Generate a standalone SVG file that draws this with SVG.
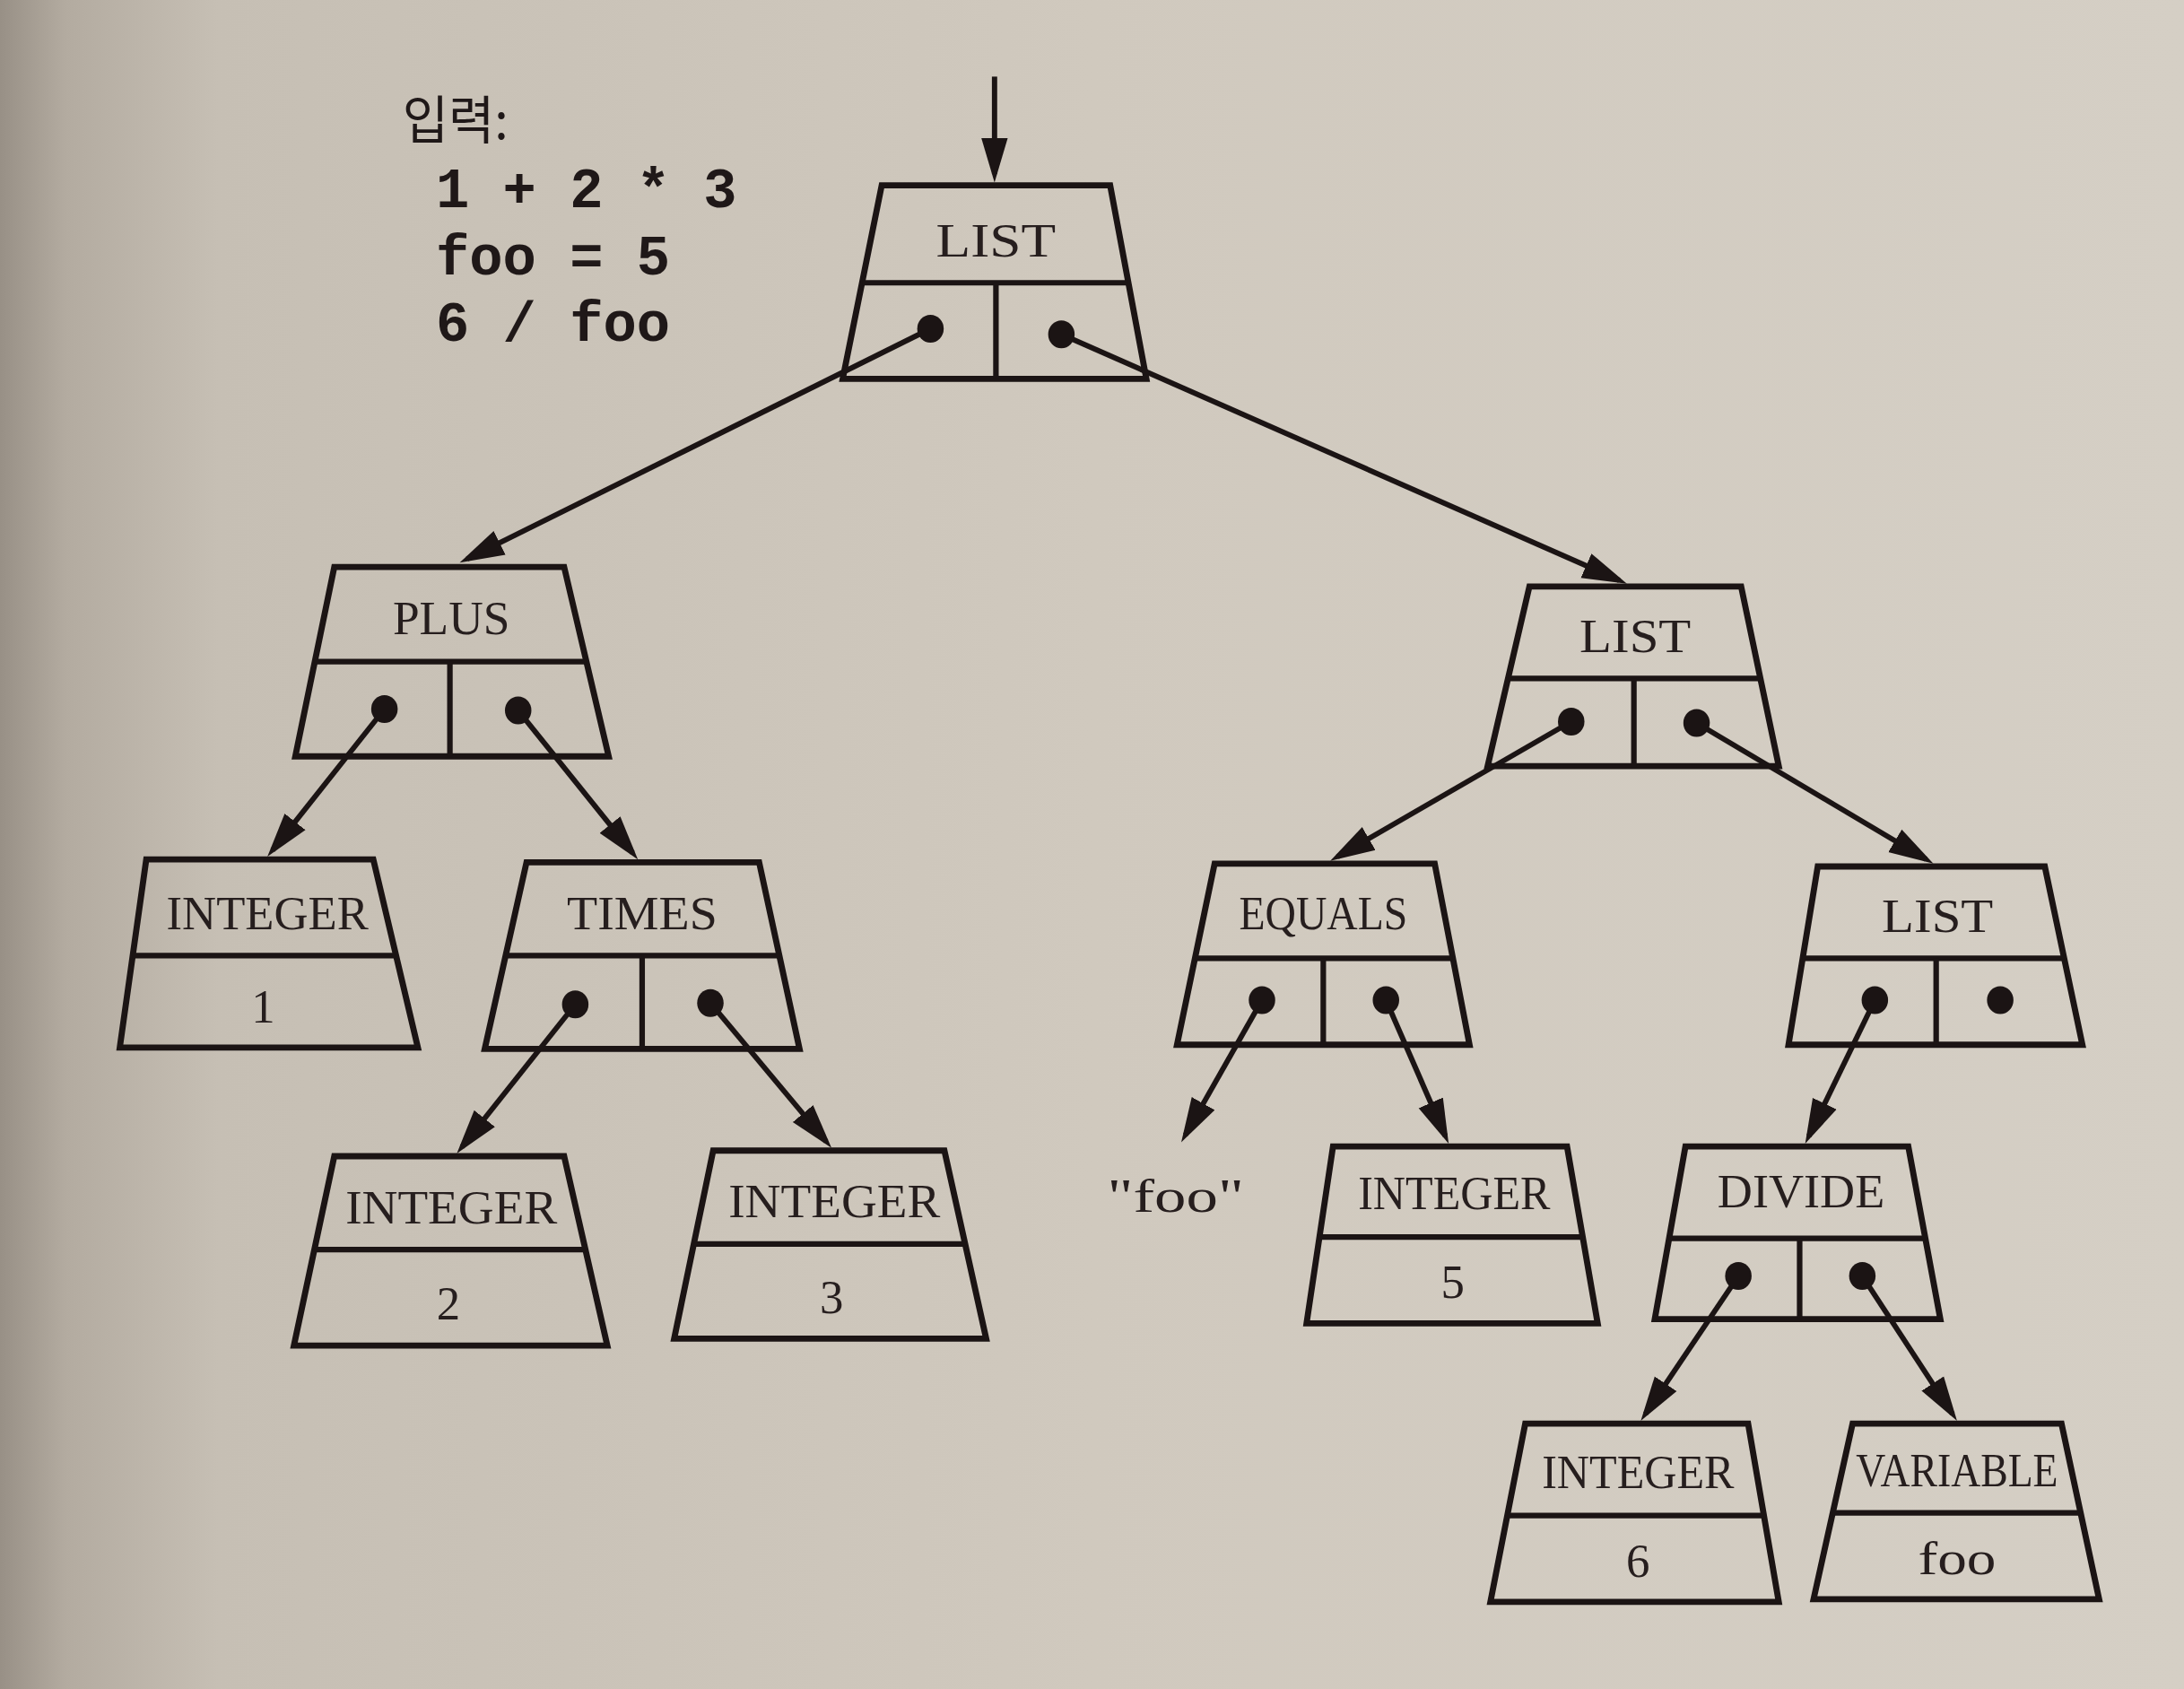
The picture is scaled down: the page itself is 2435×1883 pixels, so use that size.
<svg xmlns="http://www.w3.org/2000/svg" width="2435" height="1883" viewBox="0 0 2435 1883">
<defs>
<linearGradient id="bg" x1="0" y1="0" x2="1" y2="0">
<stop offset="0" stop-color="#989086"/>
<stop offset="0.03" stop-color="#b3aba0"/>
<stop offset="0.1" stop-color="#c6bfb4"/>
<stop offset="0.5" stop-color="#d0c9be"/>
<stop offset="1" stop-color="#d5cfc5"/>
</linearGradient>
<marker id="ah" markerUnits="userSpaceOnUse" markerWidth="34" markerHeight="20" refX="26" refY="10" orient="auto" viewBox="0 0 34 20">
<path d="M0,0.5 L32,10 L0,19.5 Z" fill="#1b1414"/>
</marker>
<style>
.n{fill:none;stroke:#1b1414;stroke-width:4.4;stroke-linejoin:miter}
.d{fill:none;stroke:#1b1414;stroke-width:4}
.c{fill:none;stroke:#1b1414;stroke-width:3.8;marker-end:url(#ah)}
.dot{fill:#1b1414}
.t{font-family:"Liberation Serif",serif;font-size:34px;fill:#261e1e;text-anchor:middle}
.code{font-family:"Liberation Mono","Courier New",monospace;font-size:40px;font-weight:bold;fill:#1f1818}
.kr{font-family:"Noto Sans CJK KR",sans-serif;font-size:37px;fill:#1f1818}
</style>
</defs>
<rect x="0" y="0" width="2435" height="1883" fill="url(#bg)"/>
<g transform="scale(1.553)">
<g id="input-text">
<text class="kr" x="289" y="100" textLength="76" lengthAdjust="spacingAndGlyphs">입력:</text>
<text class="code" x="313" y="149" xml:space="preserve">1 + 2 * 3</text>
<text class="code" x="313" y="197" xml:space="preserve">foo = 5</text>
<text class="code" x="313" y="245" xml:space="preserve">6 / foo</text>
</g>
<g id="connectors">
<line class="c" x1="714" y1="55" x2="714" y2="125"/>
<line class="c" x1="668" y1="236" x2="335.4" y2="401.3"/>
<line class="c" x1="762" y1="240" x2="1162.5" y2="416.6"/>
<line class="c" x1="276" y1="509" x2="195.7" y2="610.3"/>
<line class="c" x1="372" y1="510" x2="454.2" y2="612.3"/>
<line class="c" x1="413" y1="721" x2="331.7" y2="823.3"/>
<line class="c" x1="510" y1="720" x2="593.1" y2="819.4"/>
<line class="c" x1="1128" y1="518" x2="960.2" y2="615"/>
<line class="c" x1="1218" y1="519" x2="1382.8" y2="616.9"/>
<line class="c" x1="906" y1="718" x2="851" y2="814.8"/>
<line class="c" x1="995" y1="718" x2="1037.6" y2="815.5"/>
<line class="c" x1="1346" y1="718" x2="1298.6" y2="815.6"/>
<line class="c" x1="1248" y1="916" x2="1181.3" y2="1015"/>
<line class="c" x1="1337" y1="916" x2="1401.7" y2="1015"/>
</g>
<g id="list-root">
<polygon class="n" points="633,133 797,133 823,272 605,272"/>
<line class="d" x1="619" y1="203" x2="810" y2="203"/>
<line class="d" x1="715" y1="203" x2="715" y2="272"/>
<ellipse class="dot" cx="668" cy="236" rx="9.5" ry="10"/>
<ellipse class="dot" cx="762" cy="240" rx="9.5" ry="10"/>
<text class="t" x="715" y="184" textLength="86" lengthAdjust="spacingAndGlyphs">LIST</text>
</g>
<g id="plus">
<polygon class="n" points="240,407 405,407 437,543 212,543"/>
<line class="d" x1="226" y1="475" x2="421" y2="475"/>
<line class="d" x1="323" y1="475" x2="323" y2="543"/>
<ellipse class="dot" cx="276" cy="509" rx="9.5" ry="10"/>
<ellipse class="dot" cx="372" cy="510" rx="9.5" ry="10"/>
<text class="t" x="324" y="455" textLength="84" lengthAdjust="spacingAndGlyphs">PLUS</text>
</g>
<g id="list-2">
<polygon class="n" points="1098,421 1250,421 1277,550 1068,550"/>
<line class="d" x1="1083" y1="487" x2="1264" y2="487"/>
<line class="d" x1="1173" y1="487" x2="1173" y2="550"/>
<ellipse class="dot" cx="1128" cy="518" rx="9.5" ry="10"/>
<ellipse class="dot" cx="1218" cy="519" rx="9.5" ry="10"/>
<text class="t" x="1174" y="468" textLength="80" lengthAdjust="spacingAndGlyphs">LIST</text>
</g>
<g id="integer-1">
<polygon class="n" points="105,617 268,617 300,752 86,752"/>
<line class="d" x1="95" y1="686" x2="284" y2="686"/>
<text class="t" x="192" y="667" textLength="145" lengthAdjust="spacingAndGlyphs">INTEGER</text>
<text class="t" x="189" y="734">1</text>
</g>
<g id="times">
<polygon class="n" points="378,619 545,619 574,753 348,753"/>
<line class="d" x1="363" y1="686" x2="560" y2="686"/>
<line class="d" x1="461" y1="686" x2="461" y2="753"/>
<ellipse class="dot" cx="413" cy="721" rx="9.5" ry="10"/>
<ellipse class="dot" cx="510" cy="720" rx="9.5" ry="10"/>
<text class="t" x="461" y="667" textLength="108" lengthAdjust="spacingAndGlyphs">TIMES</text>
</g>
<g id="integer-2">
<polygon class="n" points="240,830 405,830 436,966 211,966"/>
<line class="d" x1="226" y1="897" x2="420" y2="897"/>
<text class="t" x="324" y="878" textLength="152" lengthAdjust="spacingAndGlyphs">INTEGER</text>
<text class="t" x="322" y="947">2</text>
</g>
<g id="integer-3">
<polygon class="n" points="512,826 678,826 708,961 484,961"/>
<line class="d" x1="498" y1="893" x2="693" y2="893"/>
<text class="t" x="599" y="874" textLength="152" lengthAdjust="spacingAndGlyphs">INTEGER</text>
<text class="t" x="597" y="943">3</text>
</g>
<g id="equals">
<polygon class="n" points="872,620 1030,620 1055,750 845,750"/>
<line class="d" x1="858" y1="688" x2="1043" y2="688"/>
<line class="d" x1="950" y1="688" x2="950" y2="750"/>
<ellipse class="dot" cx="906" cy="718" rx="9.5" ry="10"/>
<ellipse class="dot" cx="995" cy="718" rx="9.5" ry="10"/>
<text class="t" x="950" y="667" textLength="121" lengthAdjust="spacingAndGlyphs">EQUALS</text>
</g>
<g id="list-3">
<polygon class="n" points="1305,622 1468,622 1495,750 1284,750"/>
<line class="d" x1="1294" y1="688" x2="1482" y2="688"/>
<line class="d" x1="1390" y1="688" x2="1390" y2="750"/>
<ellipse class="dot" cx="1346" cy="718" rx="9.5" ry="10"/>
<ellipse class="dot" cx="1436" cy="718" rx="9.5" ry="10"/>
<text class="t" x="1391" y="669" textLength="80" lengthAdjust="spacingAndGlyphs">LIST</text>
</g>
<g id="string-foo">
<text class="t" x="844" y="870" textLength="98" lengthAdjust="spacingAndGlyphs">"foo"</text>
</g>
<g id="integer-5">
<polygon class="n" points="957,823 1125,823 1147,950 938,950"/>
<line class="d" x1="947" y1="888" x2="1136" y2="888"/>
<text class="t" x="1044" y="868" textLength="138" lengthAdjust="spacingAndGlyphs">INTEGER</text>
<text class="t" x="1043" y="932">5</text>
</g>
<g id="divide">
<polygon class="n" points="1210,823 1370,823 1393,947 1188,947"/>
<line class="d" x1="1198" y1="889" x2="1382" y2="889"/>
<line class="d" x1="1292" y1="889" x2="1292" y2="947"/>
<ellipse class="dot" cx="1248" cy="916" rx="9.5" ry="10"/>
<ellipse class="dot" cx="1337" cy="916" rx="9.5" ry="10"/>
<text class="t" x="1293" y="867" textLength="120" lengthAdjust="spacingAndGlyphs">DIVIDE</text>
</g>
<g id="integer-6">
<polygon class="n" points="1095,1022 1255,1022 1277,1150 1070,1150"/>
<line class="d" x1="1082" y1="1088" x2="1266" y2="1088"/>
<text class="t" x="1176" y="1068" textLength="138" lengthAdjust="spacingAndGlyphs">INTEGER</text>
<text class="t" x="1176" y="1132">6</text>
</g>
<g id="variable">
<polygon class="n" points="1330,1022 1480,1022 1507,1148 1302,1148"/>
<line class="d" x1="1316" y1="1086" x2="1494" y2="1086"/>
<text class="t" x="1405" y="1067" textLength="145" lengthAdjust="spacingAndGlyphs">VARIABLE</text>
<text class="t" x="1405" y="1130" textLength="56" lengthAdjust="spacingAndGlyphs">foo</text>
</g>
</g>
</svg>
